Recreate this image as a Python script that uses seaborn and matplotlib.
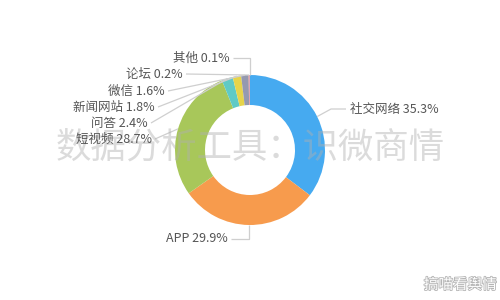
import numpy as np
import matplotlib
matplotlib.use("Agg")
import matplotlib.pyplot as plt
import matplotlib.patheffects as pe
import seaborn as sns

categories = ["社交网络", "APP", "短视频", "问答", "新闻网站", "微信", "论坛", "其他"]
shares = [35.3, 29.9, 28.7, 2.4, 1.8, 1.6, 0.2, 0.1]
colors = ["#46aaf0", "#f79b4d", "#a8c75a", "#5fcac6", "#e6d44a", "#9499b0", "#ef8a6f", "#b18bd0"]

sns.set_theme(style="white")
plt.rcParams['font.family'] = ['Noto Sans CJK SC', 'DejaVu Sans']
palette = sns.color_palette(colors)

W, H = 500, 300
fig = plt.figure(figsize=(5, 3), dpi=100)
ax = fig.add_axes([0, 0, 1, 1])

cx, cy, R, r_in = 250, 150, 75, 45
def Y(py):
    return H - py

wedges, _ = ax.pie(shares, colors=palette, startangle=90, counterclock=False,
                   radius=R, center=(cx, Y(cy)),
                   wedgeprops=dict(width=R - r_in, linewidth=0))
ax.set_xlim(0, W)
ax.set_ylim(0, H)
ax.set_aspect('equal')
ax.axis('off')

def anchor(w):
    a = np.deg2rad((w.theta1 + w.theta2) / 2)
    return cx + R * np.cos(a), Y(cy) + R * np.sin(a)

# label layout: (text right/left x, text y in px, ha, elbow)
layout = {
    "其他": (230, 58, "right", "vert"),
    "论坛": (183, 74, "right", None),
    "微信": (165, 91, "right", None),
    "新闻网站": (155, 107, "right", None),
    "问答": (148, 123, "right", None),
    "短视频": (152, 139, "right", None),
    "社交网络": (350, 109, "left", 331),
    "APP": (228, 239, "right", "vert"),
}

txt_color = "#555555"
line_color = "#cfcfcf"
for w, cat, val in zip(wedges, categories, shares):
    tx, ty, ha, elbow = layout[cat]
    ax.text(tx, Y(ty), f"{cat} {val}%", ha=ha, va="center", fontsize=9, color=txt_color, zorder=7)
    axx, ayy = anchor(w)
    sx = tx + 3 if ha == "right" else tx - 4
    if elbow == "vert":
        xs = [sx, axx, axx]
        ys = [Y(ty), Y(ty), ayy]
    elif elbow is not None:
        xs = [sx, elbow, axx]
        ys = [Y(ty), Y(ty), ayy]
    else:
        xs = [sx, axx]
        ys = [Y(ty), ayy]
    ax.plot(xs, ys, color=line_color, lw=0.9, solid_capstyle="butt")

# watermarks
ax.text(250, Y(148), "数据分析工具：识微商情", ha="center", va="center",
        fontsize=25.5, color="#b0b0b0", alpha=0.45, zorder=5)
ax.text(497, Y(285), "搞喵看舆情", ha="right", va="center", fontsize=10.5,
        color="white", zorder=6,
        path_effects=[pe.withStroke(linewidth=1.2, foreground="#b5b5b5")])

fig.savefig("out.png", dpi=100, facecolor="white")
